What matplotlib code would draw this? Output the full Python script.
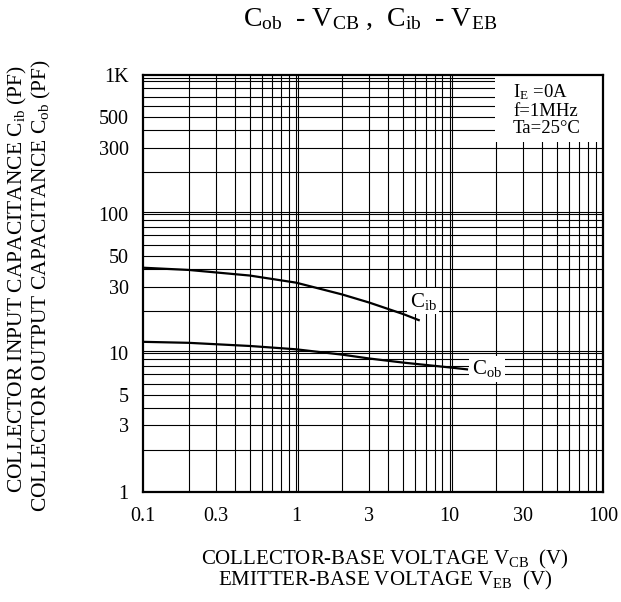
import matplotlib
matplotlib.use('Agg')
import matplotlib.pyplot as plt
from matplotlib.patches import Rectangle

plt.rcParams['font.family'] = ['Liberation Serif', 'DejaVu Serif']
plt.rcParams['mathtext.fontset'] = 'custom'
plt.rcParams['mathtext.rm'] = 'Liberation Serif'
plt.rcParams['mathtext.it'] = 'Liberation Serif'
plt.rcParams['mathtext.bf'] = 'Liberation Serif'

# 读图得到的数据 (V, pF)
cib_v = [0.1, 0.2, 0.5, 1, 2, 3, 5, 6.3]
cib_c = [41, 39.5, 36, 32, 26.3, 23, 19, 17.2]
cob_v = [0.1, 0.2, 0.5, 1, 2, 3, 5, 10, 13]
cob_c = [12.0, 11.8, 11.2, 10.6, 9.7, 9.1, 8.5, 7.85, 7.6]

xtick_vals = [0.1, 0.3, 1, 3, 10, 30, 100]
xtick_txt = ['0.1', '0.3', '1', '3', '10', '30', '100']
ytick_vals = [1, 3, 5, 10, 30, 50, 100, 300, 500, 1000]
ytick_txt = ['1', '3', '5', '10', '30', '50', '100', '300', '500', '1K']

fig = plt.figure(figsize=(6.21, 6.02), dpi=100)
ax = fig.add_axes([0.2295, 0.1832, 0.7415, 0.6922])
ax.set_xscale('log')
ax.set_yscale('log')
ax.set_xlim(0.1, 100)
ax.set_ylim(1, 1000)

# 网格线
for d in [0.1, 1, 10]:
    for m in range(1, 10):
        v = d * m
        if v <= 0.1 or v >= 100:
            continue
        ax.axvline(v, color='black', lw=0.8, zorder=1)
        if m == 1:
            ax.axvline(v * 1.035, color='black', lw=0.8, zorder=1)
for d in [1, 10, 100]:
    for m in range(1, 10):
        v = d * m
        if v <= 1 or v >= 1000:
            continue
        ax.axhline(v, color='black', lw=0.8, zorder=1)
        if m == 1:
            ax.axhline(v * 1.035, color='black', lw=0.8, zorder=1)
ax.axhline(1000 / 1.045, color='black', lw=0.8, zorder=1)

ax.plot(cib_v, cib_c, color='black', lw=1.6, zorder=2)
ax.plot(cob_v, cob_c, color='black', lw=1.6, zorder=2)

ax.text(6.72, 23.6, r'$\mathrm{C_{ib}}$', fontsize=15, ha='center', va='center', zorder=4,
        bbox=dict(facecolor='white', edgecolor='none', pad=2))
ax.text(17.5, 7.65, r'$\mathrm{C_{ob}}$', fontsize=15, ha='center', va='center', zorder=4,
        bbox=dict(facecolor='white', edgecolor='none', pad=2))

ax.add_patch(Rectangle((0.7655, 0.84), 0.2345, 0.16, transform=ax.transAxes,
                       facecolor='white', edgecolor='none', zorder=3))
ax.text(0.8046, 0.958, r'$\mathrm{I_E}$ =0A', transform=ax.transAxes, fontsize=13.5, va='center', zorder=4)
ax.text(0.8046, 0.912, 'f=1MHz', transform=ax.transAxes, fontsize=13.5, va='center', zorder=4)
ax.text(0.8046, 0.872, 'Ta=25°C', transform=ax.transAxes, fontsize=13.5, va='center', zorder=4)

ax.set_xticks(xtick_vals)
ax.set_xticklabels(xtick_txt)
ax.set_yticks(ytick_vals)
ax.set_yticklabels(ytick_txt)
ax.minorticks_off()
ax.tick_params(length=0, labelsize=14.5)
ax.tick_params(axis='x', pad=11)
ax.tick_params(axis='y', pad=10)
for s in ax.spines.values():
    s.set_linewidth(1.6)
    s.set_zorder(5)

fig.text(0.596, 0.967, r'$\mathrm{C_{ob}}$  - $\mathrm{V_{CB}}$ ,  $\mathrm{C_{ib}}$  - $\mathrm{V_{EB}}$',
         fontsize=20, ha='center', va='center')
fig.text(0.62, 0.071, r'COLLECTOR-BASE VOLTAGE $\mathrm{V_{CB}}$  (V)', fontsize=15, ha='center', va='center')
fig.text(0.62, 0.036, r'EMITTER-BASE VOLTAGE $\mathrm{V_{EB}}$  (V)', fontsize=15, ha='center', va='center')
fig.text(0.0274, 0.537, r'COLLECTOR INPUT CAPACITANCE $\mathrm{C_{ib}}$ (PF)', fontsize=15.5,
         rotation=90, ha='center', va='center')
fig.text(0.066, 0.526, r'COLLECTOR OUTPUT CAPACITANCE $\mathrm{C_{ob}}$ (PF)', fontsize=15.5,
         rotation=90, ha='center', va='center')

fig.savefig('out.png', dpi=100)
